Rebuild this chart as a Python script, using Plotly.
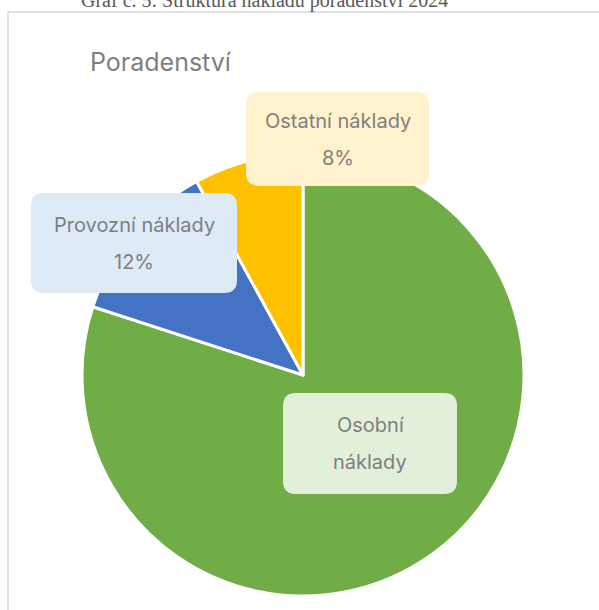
import plotly.graph_objects as go

# ---- data ----
categories = ["Osobní náklady", "Provozní náklady", "Ostatní náklady"]
values = [80, 12, 8]
slice_colors = ["#70AD47", "#4472C4", "#FFC000"]
box_colors = ["#E2EFDA", "#DEEAF6", "#FFF2CC"]
chart_title = "Graf č. 5: Struktura nákladů poradenství 2024"
inner_title = "Poradenství"

W, H = 599, 610
total = sum(values)
pcts = [f"{round(v / total * 100)}%" for v in values]

fig = go.Figure()

# pie (domain in paper coords from pixel extents)
cx, cy, r = 303, 375, 221
fig.add_trace(go.Pie(
    labels=categories, values=values, sort=False, direction="clockwise",
    rotation=0, textinfo="none", hoverinfo="label+percent",
    marker=dict(colors=slice_colors, line=dict(color="white", width=3)),
    domain=dict(x=[(cx - r) / W, (cx + r) / W], y=[1 - (cy + r) / H, 1 - (cy - r) / H]),
    showlegend=False,
))

def rounded(x0, y0, x1, y1, rad):
    return (f"M {x0+rad},{y0} L {x1-rad},{y0} Q {x1},{y0} {x1},{y0+rad} "
            f"L {x1},{y1-rad} Q {x1},{y1} {x1-rad},{y1} L {x0+rad},{y1} "
            f"Q {x0},{y1} {x0},{y1-rad} L {x0},{y0+rad} Q {x0},{y0} {x0+rad},{y0} Z")

shapes = [
    dict(type="rect", xref="x", yref="y", x0=8, y0=12, x1=700, y1=700,
         line=dict(color="#D9D9D9", width=1.5), fillcolor="rgba(0,0,0,0)", layer="below"),
]

# label boxes: (x0, y0, x1, y1), two text lines each
boxes = [(283, 393, 457, 494), (31, 193, 237, 293), (246, 92, 429, 186)]
lines = [
    ["Osobní", "náklady"],
    [categories[1], pcts[1]],
    [categories[2], pcts[2]],
]
annotations = []
for (x0, y0, x1, y1), col, ln in zip(boxes, box_colors, lines):
    shapes.append(dict(type="path", xref="x", yref="y", path=rounded(x0, y0, x1, y1, 13),
                       fillcolor=col, line=dict(width=0), layer="above"))
    ym = (y0 + y1) / 2
    for i, t in enumerate(ln):
        annotations.append(dict(x=(x0 + x1) / 2, y=ym + (i - 0.5) * 37, xref="x", yref="y",
                                text=t, showarrow=False, xanchor="center", yanchor="middle",
                                font=dict(family="Inter, Noto Sans, sans-serif", size=20, color="#7F7F7F")))

annotations.append(dict(x=88, y=62, xref="x", yref="y", text=inner_title, showarrow=False,
                        xanchor="left", yanchor="middle",
                        font=dict(family="Inter, Noto Sans, sans-serif", size=25, color="#7F7F7F")))
annotations.append(dict(x=264, y=0, xref="x", yref="y", text=chart_title, showarrow=False,
                        xanchor="center", yanchor="middle",
                        font=dict(family="Liberation Serif, Times New Roman, serif", size=20, color="#595959")))

fig.update_layout(
    width=W, height=H, margin=dict(l=0, r=0, t=0, b=0),
    paper_bgcolor="white", plot_bgcolor="rgba(0,0,0,0)",
    xaxis=dict(range=[0, W], visible=False, fixedrange=True),
    yaxis=dict(range=[H, 0], visible=False, fixedrange=True),
    shapes=shapes, annotations=annotations,
)

fig.write_html("out.html", config={"displayModeBar": False},
               post_script="document.body.style.margin='0';document.body.style.overflow='hidden';")
